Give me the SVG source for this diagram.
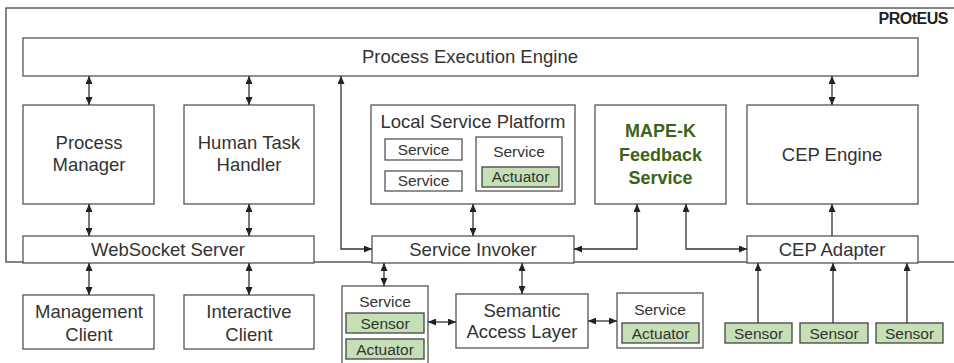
<svg xmlns="http://www.w3.org/2000/svg" width="954" height="363" viewBox="0 0 954 363">
<defs>
<marker id="ah" viewBox="0 0 8 7" refX="8" refY="3.5" markerWidth="8" markerHeight="7" markerUnits="userSpaceOnUse" orient="auto-start-reverse">
<path d="M0,0 L8,3.5 L0,7 z" fill="#222"/>
</marker>
<style>
.b{fill:#fff;stroke:#555;stroke-width:1.3}
.g{fill:#c6dfb6;stroke:#444;stroke-width:1.3}
.t{font-family:"Liberation Sans",Arial,sans-serif;fill:#333;text-anchor:middle}
.L{font-size:18.5px}
.S{font-size:15.5px}
.m{font-size:18px;font-weight:bold;fill:#3d6319}
.c{fill:none;stroke:#333;stroke-width:1.3}
.d{marker-start:url(#ah);marker-end:url(#ah)}
.e{marker-end:url(#ah)}
</style>
</defs>
<g id="proteus">
<rect x="6" y="8" width="960" height="254" fill="#fff" stroke="#444" stroke-width="1.3"/>
<text x="948" y="24" class="t" style="font-size:16px;font-weight:bold;text-anchor:end;fill:#222;letter-spacing:-0.5px">PROtEUS</text>
</g>
<g id="pee"><rect x="23" y="38" width="895" height="38" class="b"/><text x="470" y="63" class="t L">Process Execution Engine</text></g>
<g id="pm"><rect x="23" y="105" width="131" height="99" class="b"/><text x="89" y="149" class="t L">Process</text><text x="89" y="171" class="t L">Manager</text></g>
<g id="hth"><rect x="184" y="105" width="130" height="99" class="b"/><text x="249" y="149" class="t L">Human Task</text><text x="249" y="171" class="t L">Handler</text></g>
<g id="lsp"><rect x="371" y="105" width="204" height="99" class="b"/><text x="473" y="128" class="t L">Local Service Platform</text>
<rect x="385" y="139" width="77" height="21" class="b"/><text x="423.5" y="155" class="t S">Service</text>
<rect x="385" y="171" width="77" height="20" class="b"/><text x="423.5" y="186" class="t S">Service</text>
<rect x="476" y="137" width="86" height="54" class="b"/><text x="519" y="157" class="t S">Service</text>
<rect x="482" y="167" width="77" height="20" class="g"/><text x="520.5" y="182" class="t S">Actuator</text></g>
<g id="mapek"><rect x="595" y="105" width="131" height="99" class="b"/><text x="660.5" y="137" class="t m">MAPE-K</text><text x="660.5" y="161" class="t m">Feedback</text><text x="660.5" y="184" class="t m">Service</text></g>
<g id="cepe"><rect x="747" y="105" width="171" height="99" class="b"/><text x="832" y="161" class="t L">CEP Engine</text></g>
<g id="ws"><rect x="23" y="236" width="291" height="27" class="b"/><text x="168" y="256" class="t L">WebSocket Server</text></g>
<g id="si"><rect x="372" y="236" width="202" height="27" class="b"/><text x="473" y="256" class="t L">Service Invoker</text></g>
<g id="cepa"><rect x="747" y="236" width="171" height="27" class="b"/><text x="832" y="256" class="t L">CEP Adapter</text></g>
<g id="mc"><rect x="23" y="295" width="131" height="54" class="b"/><text x="89" y="318" class="t L">Management</text><text x="89" y="341" class="t L">Client</text></g>
<g id="ic"><rect x="184" y="295" width="130" height="54" class="b"/><text x="249" y="318" class="t L">Interactive</text><text x="249" y="341" class="t L">Client</text></g>
<g id="svc1"><rect x="342" y="286" width="86" height="82" class="b"/><text x="385" y="307" class="t S">Service</text>
<rect x="346" y="313" width="78" height="20" class="g"/><text x="385" y="329" class="t S">Sensor</text>
<rect x="346" y="339" width="78" height="20" class="g"/><text x="385" y="355" class="t S">Actuator</text></g>
<g id="sal"><rect x="456" y="294" width="132" height="54" class="b"/><text x="522" y="317" class="t L">Semantic</text><text x="522" y="338" class="t L">Access Layer</text></g>
<g id="svc2"><rect x="617" y="293" width="86" height="55" class="b"/><text x="660" y="315" class="t S">Service</text>
<rect x="622" y="323" width="77" height="20" class="g"/><text x="660.5" y="339" class="t S">Actuator</text></g>
<g id="s1"><rect x="725" y="323" width="67" height="20" class="g"/><text x="758.5" y="339" class="t S">Sensor</text></g>
<g id="s2"><rect x="800" y="323" width="68" height="20" class="g"/><text x="834" y="339" class="t S">Sensor</text></g>
<g id="s3"><rect x="876" y="323" width="67" height="20" class="g"/><text x="909.5" y="339" class="t S">Sensor</text></g>
<g id="connectors">
<path class="c d" d="M89,76 V105"/>
<path class="c d" d="M249,76 V105"/>
<path class="c d" d="M832,76 V105"/>
<path class="c d" d="M341,76 V249 H372"/>
<path class="c d" d="M89,204 V236"/>
<path class="c d" d="M249,204 V236"/>
<path class="c d" d="M473,204 V236"/>
<path class="c d" d="M574,249 H637 V204"/>
<path class="c d" d="M686,204 V249 H747"/>
<path class="c e" d="M832,236 V204"/>
<path class="c d" d="M89,263 V295"/>
<path class="c d" d="M249,263 V295"/>
<path class="c d" d="M384,263 V286"/>
<path class="c d" d="M522,263 V294"/>
<path class="c d" d="M428,322 H456"/>
<path class="c d" d="M588,321 H617"/>
<path class="c e" d="M758,323 V263"/>
<path class="c e" d="M833,323 V263"/>
<path class="c e" d="M907,323 V263"/>
</g>
</svg>
